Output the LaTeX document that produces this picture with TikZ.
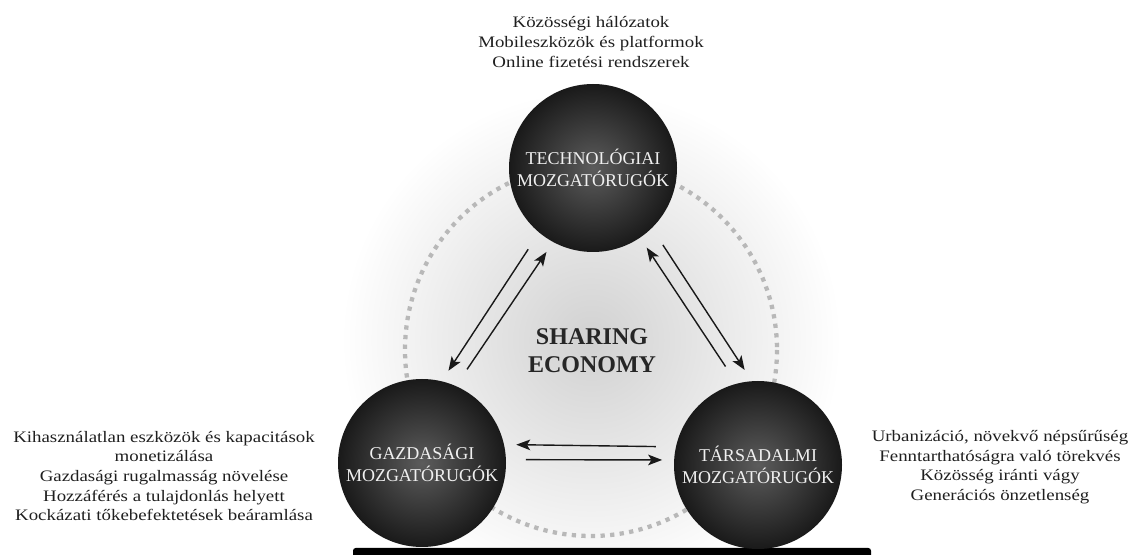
\documentclass[tikz,border=0pt]{standalone}
\usepackage{fontspec}
\setmainfont{Liberation Serif}
\newfontfamily\widefont[FakeStretch=1.18]{Liberation Serif}
\usetikzlibrary{arrows.meta}
\begin{document}
\begin{tikzpicture}[x=0.75pt,y=-0.75pt,
  ball/.style={circle, minimum size=126pt, inner sep=0pt, outer sep=9pt,
    shading=radial, inner color=black!64, outer color=black!90,
    text=black!6, font=\fontsize{13.5}{16.5}\selectfont, align=center},
  info/.style={align=center, font=\widefont\fontsize{12}{14.7}\selectfont, text=black!88},
  conn/.style={line width=1.05pt, -{Stealth[length=10.5pt,width=8pt,inset=2.5pt]}, shorten <=6pt, draw=black!90},
  dots/.style={line width=3.2pt, dash pattern=on 3.2pt off 4pt, draw=black!28}]
\useasboundingbox (0,0) rectangle (1136,555);
\shade[inner color=black!18, outer color=white] (591,340) circle (250);
\draw[dots] (591,350) circle (186);
\fill[black, rounded corners=2pt] (353,548) rectangle (871,575);
\node[ball] (top) at (593,168) {TECHNOLÓGIAI\\MOZGATÓRUGÓK};
\node[ball] (left) at (422,463) {GAZDASÁGI\\MOZGATÓRUGÓK};
\node[ball] (right) at (758,465) {TÁRSADALMI\\MOZGATÓRUGÓK};
\node[font=\bfseries\fontsize{18}{21}\selectfont, align=center, text=black!85] (se) at (592,351) {SHARING\\ECONOMY};
\node[info] (ttext) at (591,42) {Közösségi hálózatok\\Mobileszközök és platformok\\Online fizetési rendszerek};
\node[info] (ltext) at (164,476) {Kihasználatlan eszközök és kapacitások\\monetizálása\\Gazdasági rugalmasság növelése\\Hozzáférés a tulajdonlás helyett\\Kockázati tőkebefektetések beáramlása};
\node[info] (rtext) at (1000,467) {Urbanizáció, növekvő népsűrűség\\Fenntarthatóságra való törekvés\\Közösség iránti vágy\\Generációs önzetlenség};
\draw[conn] (top.231) -- (left.74);
\draw[conn] (left.65) -- (top.241);
\draw[conn] (right.107) -- (top.304);
\draw[conn] (top.313) -- (right.98);
\draw[conn] (right.169) -- (left.11);
\draw[conn] (left.2) -- (right.177);
\end{tikzpicture}
\end{document}
